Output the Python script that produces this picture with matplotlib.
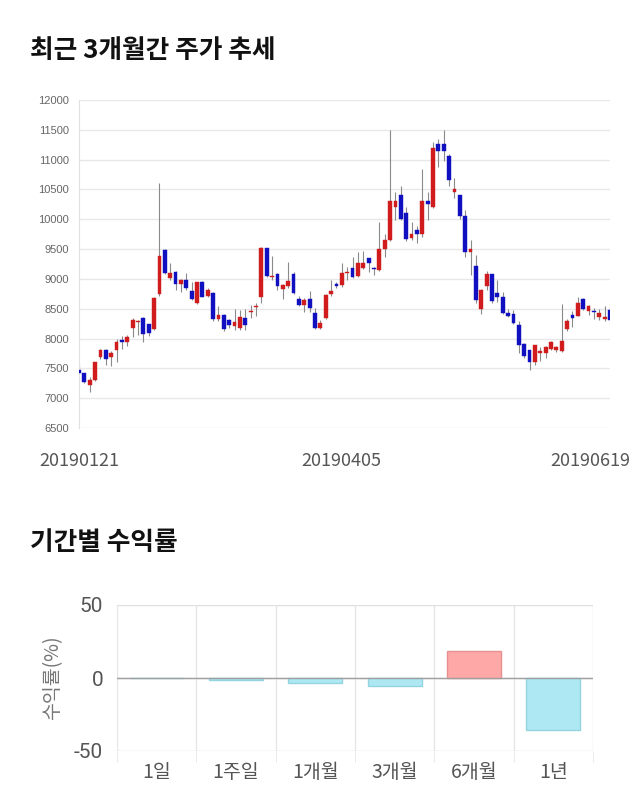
import matplotlib
matplotlib.use("Agg")
import matplotlib.pyplot as plt
import matplotlib.transforms as mtransforms
import numpy as np

plt.rcParams['font.family'] = ['Noto Sans CJK KR', 'DejaVu Sans']
plt.rcParams['axes.unicode_minus'] = False

# daily prices, 100 trading days
opens = [7480, 7420, 7220, 7300, 7690, 7810, 7690, 7810, 7980, 7950,
         8170, 8270, 8350, 8240, 8160, 8750, 9480, 9010, 9110, 8920,
         8980, 8800, 8600, 8940, 8710, 8770, 8320, 8400, 8310, 8210,
         8170, 8350, 8450, 8530, 8690, 9510, 9030, 9090, 8830, 8880,
         9090, 8670, 8570, 8660, 8430, 8170, 8340, 8740, 8910, 8900,
         9095, 9180, 9050, 9190, 9345, 9180, 9150, 9500, 9650, 10200,
         10400, 10100, 9680, 9820, 9760, 10300, 10200, 11260, 11260, 11060,
         10450, 10400, 10050, 9450, 9210, 8490, 8880, 9080, 8760, 8700,
         8430, 8410, 8230, 7910, 7800, 7610, 7765, 7765, 7825, 7800,
         7790, 8160, 8390, 8380, 8660, 8470, 8460, 8355, 8335, 8480]
closes = [7420, 7270, 7300, 7600, 7810, 7650, 7760, 7950, 7950, 8030,
          8310, 8290, 8070, 8100, 8680, 9380, 9100, 9100, 8910, 8980,
          8840, 8660, 8940, 8700, 8820, 8320, 8400, 8160, 8230, 8270,
          8360, 8230, 8470, 8545, 9520, 9050, 9050, 8880, 8890, 8960,
          8760, 8560, 8650, 8510, 8170, 8260, 8730, 8790, 8880, 9100,
          9120, 9030, 9270, 9260, 9260, 9160, 9500, 9650, 10300, 10310,
          10000, 9670, 9760, 9760, 10300, 10250, 11200, 11150, 11150, 10660,
          10510, 10050, 9450, 9500, 8640, 8810, 9080, 8630, 8700, 8420,
          8380, 8260, 7890, 7700, 7610, 7890, 7790, 7860, 7935, 7850,
          7960, 8300, 8340, 8590, 8490, 8545, 8440, 8420, 8365, 8310]
highs = [7580, 7430, 7350, 7600, 7820, 7820, 7790, 8000, 8050, 8060,
         8340, 8310, 8360, 8250, 8700, 10600, 9500, 9270, 9140, 9000,
         9100, 8950, 8950, 8960, 8840, 8780, 8550, 8410, 8320, 8490,
         8480, 8490, 8560, 8590, 9530, 9520, 9380, 9100, 8920, 9290,
         9110, 8720, 8680, 8790, 8510, 8310, 8740, 8980, 8940, 9260,
         9200, 9370, 9450, 9470, 9350, 9200, 9960, 9750, 11500, 10460,
         10550, 10200, 9960, 9880, 10850, 10460, 11300, 11350, 11500, 11100,
         10690, 10410, 10150, 9650, 9400, 8830, 9130, 9090, 8980, 8780,
         8500, 8480, 8300, 7930, 7810, 7900, 7850, 7880, 7960, 7880,
         8580, 8330, 8470, 8700, 8680, 8570, 8520, 8500, 8545, 8620]
lows = [7400, 7250, 7110, 7290, 7650, 7560, 7540, 7610, 7830, 7880,
        8030, 8060, 7950, 8050, 8140, 8720, 9080, 8980, 8810, 8780,
        8810, 8640, 8580, 8690, 8690, 8300, 8300, 8120, 8170, 8140,
        8140, 8140, 8340, 8370, 8590, 9040, 8980, 8810, 8670, 8850,
        8740, 8540, 8450, 8450, 8160, 8160, 8320, 8720, 8840, 8870,
        8980, 9010, 9030, 9160, 9120, 9060, 9140, 9370, 9640, 9990,
        9990, 9640, 9650, 9600, 9710, 9990, 10190, 10870, 10970, 10550,
        10350, 10000, 9370, 9070, 8590, 8410, 8810, 8590, 8620, 8410,
        8360, 8250, 7750, 7680, 7470, 7560, 7630, 7680, 7800, 7780,
        7780, 8130, 8190, 8370, 8480, 8390, 8320, 8310, 8300, 8250]
date_labels = ['20190121', '20190405', '20190619']
date_pos = [0, 49, 99]

periods = ['1일', '1주일', '1개월', '3개월', '6개월', '1년']
returns = [0.0, -1.1, -3.4, -5.3, 18.3, -35.8]

fig = plt.figure(figsize=(6.4, 8.1), dpi=100)

fig.text(30/640, 1 - 51/810, '최근 3개월간 주가 추세', fontsize=18.5, fontweight='bold',
         va='center', ha='left', color='#111111')
fig.text(30/640, 1 - 542/810, '기간별 수익률', fontsize=18.5, fontweight='bold',
         va='center', ha='left', color='#111111')

# candlestick chart
ax = fig.add_axes([79/640, 1 - 428/810, 531/640, 328/810])
o = np.array(opens)
c = np.array(closes)
x = np.arange(len(o))
up = c >= o
ax.vlines(x, lows, highs, color='#8a8a8a', linewidth=0.8, zorder=2)
bottoms = np.minimum(o, c)
heights = np.maximum(np.abs(c - o), 18)
cols = np.where(up, '#d01c1c', '#1010c0')
ax.bar(x, heights, bottom=bottoms, width=0.72, color=cols, edgecolor=cols,
       linewidth=0.3, zorder=3)
ax.set_xlim(0, 99)
ax.set_ylim(6500, 12000)
ax.set_yticks(np.arange(6500, 12001, 500))
ax.grid(axis='y', color='#e8e8e8', linewidth=1)
ax.set_axisbelow(True)
for s in ['top', 'right', 'bottom']:
    ax.spines[s].set_visible(False)
ax.spines['left'].set_color('#e0e0e0')
ax.tick_params(axis='y', length=0, labelsize=8, labelcolor='#666666', pad=7)
ax.tick_params(axis='x', length=0, labelsize=13, labelcolor='#555555', pad=17)
for lab in ax.get_yticklabels():
    lab.set_family(['Liberation Sans', 'DejaVu Sans'])
ax.set_xticks(date_pos)
ax.set_xticklabels(date_labels)
last = ax.get_xticklabels()[-1]
last.set_transform(last.get_transform() +
                   mtransforms.ScaledTranslation(-0.2, 0, fig.dpi_scale_trans))

# returns bar chart
ax2 = fig.add_axes([117/640, 1 - 751/810, 476/640, 146/810])
bar_cols = ['#ffa8a8' if v > 0 else '#aee9f3' for v in returns]
edge_cols = ['#e89090' if v > 0 else '#94d4df' for v in returns]
xb = np.arange(len(periods))
ax2.bar(xb, returns, width=0.68, color=bar_cols, edgecolor=edge_cols,
        linewidth=1, zorder=3)
ax2.set_xlim(-0.5, len(periods) - 0.5)
ax2.set_ylim(-50, 50)
ax2.set_yticks([-50, 0, 50])
ax2.set_xticks(xb)
ax2.set_xticklabels(periods)
ax2.set_xticks(np.arange(-0.5, len(periods), 1), minor=True)
ax2.grid(axis='x', which='minor', color='#e6e6e6', linewidth=1)
ax2.grid(axis='y', which='major', color='#e0e0e0', linewidth=1)
ax2.axhline(0, color='#a0a0a0', linewidth=1, zorder=4)
ax2.set_axisbelow(True)
for s in ax2.spines.values():
    s.set_visible(False)
ax2.tick_params(axis='x', which='major', length=0, labelsize=14,
                labelcolor='#555555', pad=8)
ax2.tick_params(axis='x', which='minor', length=8, color='#e6e6e6')
ax2.tick_params(axis='y', length=0, labelsize=15, labelcolor='#555555', pad=10)
for lab in ax2.get_yticklabels():
    lab.set_family(['Roboto', 'DejaVu Sans'])
ax2.set_ylabel('수익률(%)', fontsize=14, color='#777777', labelpad=8)

fig.savefig('out.png', dpi=100, facecolor='white')
